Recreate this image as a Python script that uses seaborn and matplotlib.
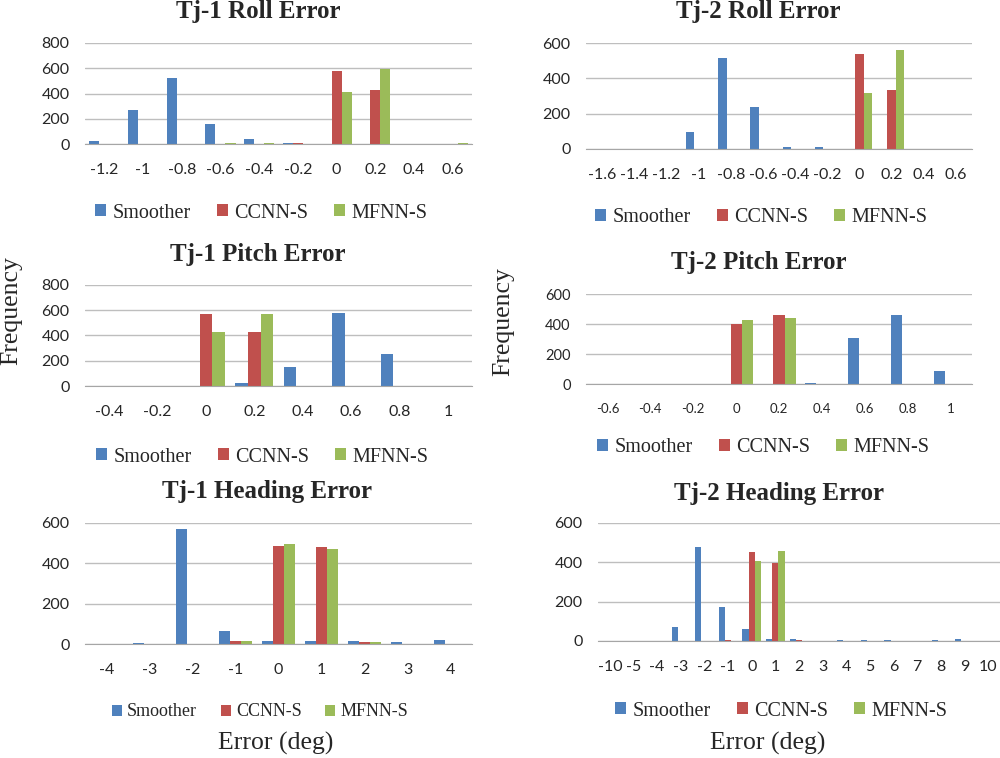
import numpy as np
import pandas as pd
import matplotlib
matplotlib.use('Agg')
import matplotlib.pyplot as plt
import seaborn as sns

# histogram bins (category labels) and counts per method
methods = ['Smoother', 'CCNN-S', 'MFNN-S']
colors = ['#4F81BD', '#C0504D', '#9BBB59']

tj1_roll_bins = ['-1.2', '-1', '-0.8', '-0.6', '-0.4', '-0.2', '0', '0.2', '0.4', '0.6']
tj1_roll_smoother = [25, 270, 520, 155, 37, 10, 0, 0, 0, 0]
tj1_roll_ccnn = [0, 0, 0, 0, 0, 10, 575, 429, 0, 0]
tj1_roll_mfnn = [0, 0, 0, 8, 8, 0, 408, 596, 0, 8]

tj2_roll_bins = ['-1.6', '-1.4', '-1.2', '-1', '-0.8', '-0.6', '-0.4', '-0.2', '0', '0.2', '0.4', '0.6']
tj2_roll_smoother = [0, 0, 0, 97, 516, 235, 13, 9, 0, 0, 0, 0]
tj2_roll_ccnn = [0, 0, 0, 0, 0, 0, 0, 0, 537, 334, 0, 0]
tj2_roll_mfnn = [0, 0, 0, 0, 0, 0, 0, 0, 315, 562, 0, 0]

tj1_pitch_bins = ['-0.4', '-0.2', '0', '0.2', '0.4', '0.6', '0.8', '1']
tj1_pitch_smoother = [0, 0, 0, 25, 150, 578, 253, 0]
tj1_pitch_ccnn = [0, 0, 569, 431, 0, 0, 0, 0]
tj1_pitch_mfnn = [0, 0, 431, 569, 0, 0, 0, 0]

tj2_pitch_bins = ['-0.6', '-0.4', '-0.2', '0', '0.2', '0.4', '0.6', '0.8', '1']
tj2_pitch_smoother = [0, 0, 0, 0, 0, 9, 308, 458, 89]
tj2_pitch_ccnn = [0, 0, 0, 400, 463, 0, 0, 0, 0]
tj2_pitch_mfnn = [0, 0, 0, 430, 441, 0, 0, 0, 0]

tj1_heading_bins = ['-4', '-3', '-2', '-1', '0', '1', '2', '3', '4']
tj1_heading_smoother = [0, 7, 568, 66, 15, 15, 15, 10, 18]
tj1_heading_ccnn = [0, 0, 0, 15, 486, 481, 10, 0, 0]
tj1_heading_mfnn = [0, 0, 0, 14, 494, 472, 10, 0, 0]

tj2_heading_bins = ['-10', '-5', '-4', '-3', '-2', '-1', '0', '1', '2', '3', '4', '5', '6', '7', '8', '9', '10']
tj2_heading_smoother = [0, 0, 0, 73, 477, 171, 60, 12, 12, 0, 5, 5, 5, 0, 5, 10, 0]
tj2_heading_ccnn = [0, 0, 0, 0, 0, 5, 453, 398, 5, 0, 0, 0, 0, 0, 0, 0, 0]
tj2_heading_mfnn = [0, 0, 0, 0, 0, 0, 407, 456, 0, 0, 0, 0, 0, 0, 0, 0, 0]

sns.set_style('white')
plt.rcParams['font.family'] = ['Lato', 'DejaVu Sans']
serif = ['Liberation Serif', 'DejaVu Serif']

W, H = 1000, 758
fig = plt.figure(figsize=(10, 7.58), dpi=100)


def px(x0, y0, x1, y1):
    # pixel box -> figure fraction rect
    return [x0 / W, 1 - y1 / H, (x1 - x0) / W, (y1 - y0) / H]


# panel: title, bins, series, ymax, axes box, title pos, legend pos, tick sizes, legend size
panels = [
    ('Tj-1 Roll Error', tj1_roll_bins, [tj1_roll_smoother, tj1_roll_ccnn, tj1_roll_mfnn], 800,
     (85, 43, 472, 144), (258, 18), (261, 213), 11.5, 11.5, 14.5),
    ('Tj-2 Roll Error', tj2_roll_bins, [tj2_roll_smoother, tj2_roll_ccnn, tj2_roll_mfnn], 600,
     (586, 43, 972, 149), (758, 18), (761, 218), 11.5, 11.5, 14.5),
    ('Tj-1 Pitch Error', tj1_pitch_bins, [tj1_pitch_smoother, tj1_pitch_ccnn, tj1_pitch_mfnn], 800,
     (85, 285, 472, 386), (258, 261), (262, 457), 11.5, 11.5, 14.5),
    ('Tj-2 Pitch Error', tj2_pitch_bins, [tj2_pitch_smoother, tj2_pitch_ccnn, tj2_pitch_mfnn], 600,
     (586, 294, 972, 384), (759, 269), (763, 448), 9.5, 10.5, 14.5),
    ('Tj-1 Heading Error', tj1_heading_bins, [tj1_heading_smoother, tj1_heading_ccnn, tj1_heading_mfnn], 600,
     (85, 523, 472, 644), (267, 498), (260, 712), 11.5, 11.5, 13),
    ('Tj-2 Heading Error', tj2_heading_bins, [tj2_heading_smoother, tj2_heading_ccnn, tj2_heading_mfnn], 600,
     (598, 523, 1000, 641), (779, 500), (781, 711), 11.5, 11.5, 14.5),
]

for title, bins, series, ymax, box, tpos, lpos, xfs, yfs, lfs in panels:
    df = pd.DataFrame({
        'bin': bins * 3,
        'count': series[0] + series[1] + series[2],
        'method': [m for m in methods for _ in bins],
    })
    ax = fig.add_axes(px(*box))
    sns.barplot(data=df, x='bin', y='count', hue='method', order=bins, hue_order=methods,
                palette=colors, width=0.78, linewidth=0, saturation=1, ax=ax)
    leg = ax.get_legend()
    handles = leg.legend_handles
    labels = [t.get_text() for t in leg.get_texts()]
    leg.remove()

    ax.set_xlim(-0.5, len(bins) - 0.5)
    ax.set_ylim(0, ymax)
    ax.set_yticks(np.arange(0, ymax + 1, 200))
    ax.yaxis.grid(True, color='#BEBEBE', lw=1)
    ax.set_axisbelow(True)
    for s in ['left', 'top', 'right']:
        ax.spines[s].set_visible(False)
    ax.spines['bottom'].set_color('#A6A6A6')
    ax.tick_params(axis='x', length=0, pad=14, labelsize=xfs)
    ax.tick_params(axis='y', length=0, pad=11, labelsize=yfs)
    ax.set_xlabel('')
    ax.set_ylabel('')

    fig.text(tpos[0] / W, 1 - tpos[1] / H, title, ha='center', va='baseline',
             family=serif, fontweight='bold', fontsize=18)
    fig.legend(handles, labels, loc='center', bbox_to_anchor=(lpos[0] / W, 1 - lpos[1] / H),
               ncol=3, frameon=False, handlelength=0.55, handleheight=0.55, handletextpad=0.3,
               columnspacing=1.3, prop={'family': serif, 'size': lfs})

fig.text(11 / W, 1 - 311 / H, 'Frequency', rotation=90, ha='center', va='center',
         family=serif, fontsize=18.5)
fig.text(503 / W, 1 - 322 / H, 'Frequency', rotation=90, ha='center', va='center',
         family=serif, fontsize=18.5)
fig.text(276 / W, 1 - 743 / H, 'Error (deg)', ha='center', va='center', family=serif, fontsize=18.5)
fig.text(768 / W, 1 - 743 / H, 'Error (deg)', ha='center', va='center', family=serif, fontsize=18.5)

fig.savefig('out.png', dpi=100)
